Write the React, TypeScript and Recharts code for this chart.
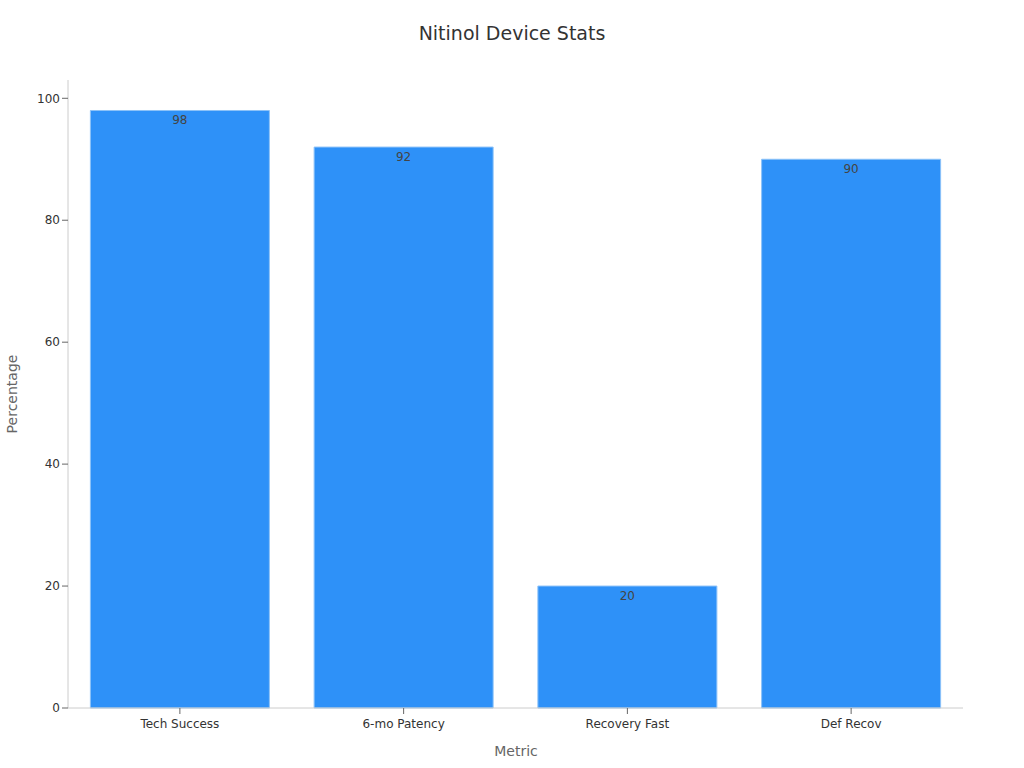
import React from 'react';
import { Bar, BarChart, LabelList, XAxis, YAxis, Label } from 'recharts';

const metrics = ['Tech Success', '6-mo Patency', 'Recovery Fast', 'Def Recov'];
const percentages = [98, 92, 20, 90];
const yTicks = [0, 20, 40, 60, 80, 100];

const data = metrics.map((metric, i) => ({ metric, value: percentages[i] }));

const font = 'DejaVu Sans, sans-serif';

const App: React.FC = () => (
    <div style={{ position: 'absolute', left: 0, top: 0, width: 1024, height: 768, fontFamily: font }}>
        <div
            style={{
                position: 'absolute',
                top: 22,
                width: 1024,
                textAlign: 'center',
                fontSize: 19,
                color: '#333',
            }}
        >
            Nitinol Device Stats
        </div>
        <BarChart
            width={1024}
            height={768}
            data={data}
            margin={{ top: 80, right: 61, bottom: 30, left: 1 }}
            barCategoryGap="10%"
        >
            <XAxis
                dataKey="metric"
                stroke="#ccc"
                tickMargin={5}
                tick={{ fill: '#333', fontSize: 12, fontFamily: font }}
                tickLine={{ stroke: '#666' }}
            >
                <Label
                    content={() => (
                        <text x={516} y={756} textAnchor="middle" fill="#666" fontSize={14} fontFamily={font}>
                            Metric
                        </text>
                    )}
                />
            </XAxis>
            <YAxis
                width={67}
                domain={[0, 103]}
                ticks={yTicks}
                stroke="#ccc"
                tick={{ fill: '#333', fontSize: 12, fontFamily: font }}
                tickLine={{ stroke: '#666' }}
            >
                <Label
                    content={() => (
                        <text
                            x={17}
                            y={394}
                            textAnchor="middle"
                            fill="#666"
                            fontSize={14}
                            fontFamily={font}
                            transform="rotate(-90 17 394)"
                        >
                            Percentage
                        </text>
                    )}
                />
            </YAxis>
            <Bar dataKey="value" fill="#2E91F8" stroke="#8cc2f8" isAnimationActive={false}>
                <LabelList
                    dataKey="value"
                    position="insideTop"
                    offset={5}
                    fill="#444"
                    fontSize={12}
                    fontFamily={font}
                />
            </Bar>
        </BarChart>
    </div>
);

export default App;
